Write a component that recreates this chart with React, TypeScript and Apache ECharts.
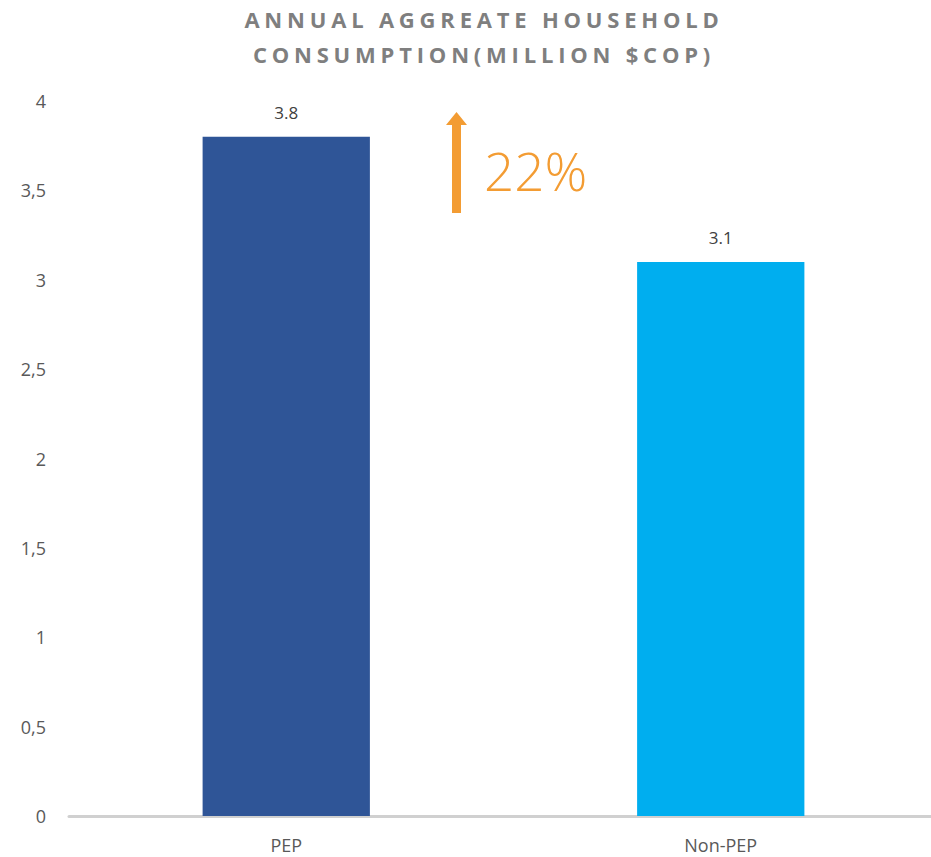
import React, { useEffect, useRef } from "react";
import * as echarts from "echarts";

const categories = ["PEP", "Non-PEP"];
const values = [3.8, 3.1];
const barColors = ["#2F5597", "#00AEEF"];
const yTicks = { min: 0, max: 4, interval: 0.5 };
const titleText = "ANNUAL AGGREATE HOUSEHOLD\nCONSUMPTION(MILLION $COP)";
const changeLabel = "22%";

export default function App() {
  const ref = useRef<HTMLDivElement>(null);
  useEffect(() => {
    if (!ref.current) return;
    const chart = echarts.init(ref.current, null, { renderer: "svg" });
    const orange = "#F39C33";
    chart.setOption({
      animation: false,
      backgroundColor: "#ffffff",
      title: {
        text: titleText,
        left: 484,
        top: 1,
        padding: 0,
        textAlign: "center",
        textStyle: {
          fontFamily: "Open Sans",
          fontSize: 22,
          fontWeight: "bold",
          color: "#7f7f7f",
          lineHeight: 35,
        },
      },
      grid: { left: 69, right: 0, top: 101, bottom: 41, containLabel: false },
      xAxis: {
        type: "category",
        data: categories,
        axisLine: { lineStyle: { color: "#d0d0d0", width: 3 } },
        axisTick: { show: false },
        axisLabel: {
          fontFamily: "Open Sans",
          fontSize: 18,
          color: "#595959",
          margin: 20,
        },
      },
      yAxis: {
        type: "value",
        min: yTicks.min,
        max: yTicks.max,
        interval: yTicks.interval,
        splitLine: { show: false },
        axisLine: { show: false },
        axisTick: { show: false },
        axisLabel: {
          fontFamily: "Open Sans",
          fontSize: 18,
          color: "#595959",
          margin: 23,
          formatter: (v: number) => String(v).replace(".", ","),
        },
      },
      series: [
        {
          type: "bar",
          barWidth: "38.5%",
          data: values.map((v, i) => ({
            value: v,
            itemStyle: { color: barColors[i] },
          })),
          label: {
            show: true,
            position: "top",
            distance: 16,
            fontFamily: "Open Sans",
            fontSize: 17,
            color: "#404040",
            formatter: (p: any) => p.value.toFixed(1),
          },
        },
      ],
      graphic: [
        {
          type: "polygon",
          shape: {
            points: [
              [452, 213],
              [461, 213],
              [461, 125],
              [467, 125],
              [456.5, 112],
              [446, 125],
              [452, 125],
            ],
          },
          style: { fill: orange },
        },
        {
          type: "text",
          x: 484,
          y: 170,
          style: {
            text: changeLabel,
            fontFamily: "Open Sans",
            fontSize: 53,
            fontWeight: 300,
            fill: orange,
            verticalAlign: "middle",
            align: "left",
          },
        },
      ],
    });
    ref.current.querySelectorAll("text").forEach((t) => {
      const s = t.textContent || "";
      if (s.indexOf("ANNUAL") >= 0 || s.indexOf("CONSUMPTION") >= 0) {
        (t as SVGTextElement).style.letterSpacing = "4.8px";
      }
    });
    return () => chart.dispose();
  }, []);
  return (
    <div
      style={{
        position: "fixed",
        left: 0,
        top: 0,
        width: 931,
        height: 857,
        overflow: "hidden",
      }}
    >
      <div ref={ref} style={{ width: 938, height: 857 }} />
    </div>
  );
}
